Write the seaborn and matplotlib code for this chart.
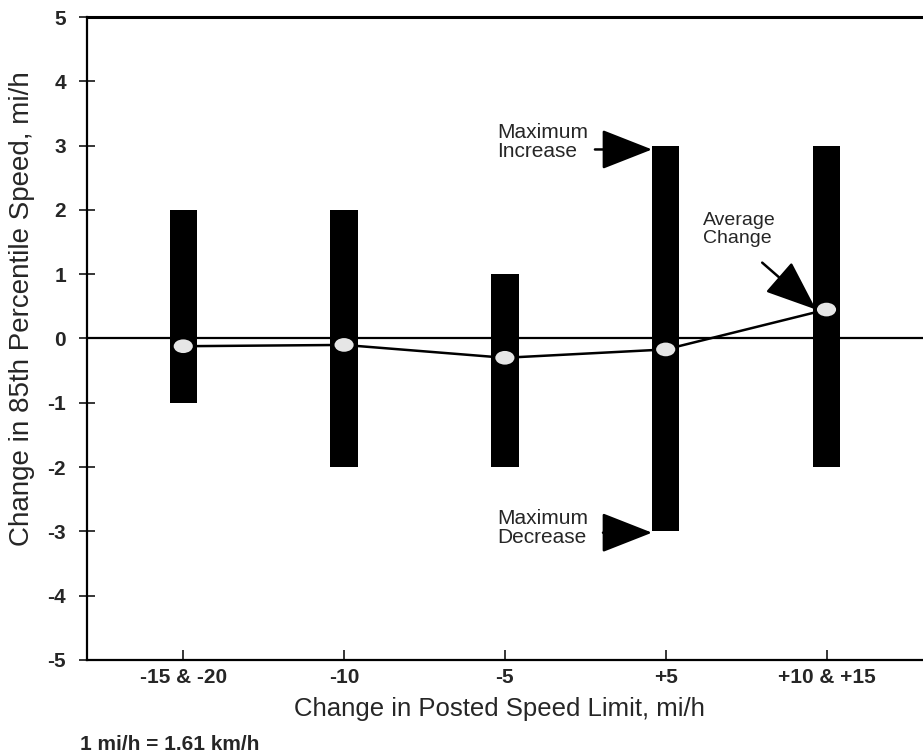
import numpy as np
import pandas as pd
import seaborn as sns
import matplotlib.pyplot as plt
from matplotlib.path import Path

# data
categories = ["-15 & -20", "-10", "-5", "+5", "+10 & +15"]
max_increase = [2, 2, 1, 3, 3]
max_decrease = [-1, -2, -2, -3, -2]
avg_change = [-0.12, -0.10, -0.30, -0.17, 0.45]
y_ticks = [-5, -4, -3, -2, -1, 0, 1, 2, 3, 4, 5]

df = pd.DataFrame({"cat": categories, "hi": max_increase, "lo": max_decrease,
                   "avg": avg_change, "pos": np.arange(len(categories))})

sns.set_style("white")
plt.rcParams["font.family"] = ["Liberation Sans", "DejaVu Sans"]

fig = plt.figure(figsize=(9.23, 7.56), dpi=100)
ax = fig.add_axes([0.094, 0.127, 0.906, 0.8505])

# range bars: upper part (0..max) and lower part (min..0)
sns.barplot(data=df, x="cat", y="hi", color="black", width=0.17, ax=ax,
            saturation=1, edgecolor="black", linewidth=0)
sns.barplot(data=df, x="cat", y="lo", color="black", width=0.17, ax=ax,
            saturation=1, edgecolor="black", linewidth=0)

ax.axhline(0, color="black", lw=1.6, zorder=1)

# average change line + elliptical white markers
sns.lineplot(data=df, x="pos", y="avg", color="black", lw=1.8, ax=ax, zorder=4)
circ = Path.unit_circle()
ell = Path(circ.vertices * np.array([1.4, 1.0]), circ.codes)
sns.scatterplot(data=df, x="pos", y="avg", marker=ell, s=190, color="#e6e6e6",
                edgecolor="none", ax=ax, zorder=5)

ax.set_xlim(-0.6, 4.6)
ax.set_ylim(-5, 5)
ax.set_yticks(y_ticks)
ax.set_yticklabels([str(v) for v in y_ticks])
ax.set_xticks(range(len(categories)))
ax.set_xticklabels(categories)

for lab in ax.get_xticklabels() + ax.get_yticklabels():
    lab.set_fontweight("bold")
    lab.set_fontsize(15)

ax.tick_params(axis="y", direction="inout", length=12, width=1.3, pad=9, left=True)
ax.tick_params(axis="x", direction="in", length=7, width=1.3, pad=6, bottom=True)

for s in ["left", "bottom", "top"]:
    ax.spines[s].set_visible(True)
    ax.spines[s].set_color("black")
    ax.spines[s].set_linewidth(1.6)
ax.spines["top"].set_linewidth(2.2)
ax.spines["right"].set_visible(False)

ax.set_xlabel("Change in Posted Speed Limit, mi/h", fontsize=18.5)
ax.xaxis.set_label_coords(0.494, -0.057)
ax.set_ylabel("Change in 85th Percentile Speed, mi/h", fontsize=20)
ax.yaxis.set_label_coords(-0.062, 0.547)

arrow = dict(arrowstyle="-|>,head_length=1.4,head_width=0.55", color="black",
             lw=1.8, mutation_scale=23, shrinkA=0, shrinkB=0)

ax.text(1.95, 3.06, "Maximum\nIncrease", fontsize=15, ha="left", va="center",
        linespacing=1.0)
ax.annotate("", xy=(3 - 0.085, 2.94), xytext=(2.56, 2.94), arrowprops=arrow)

ax.text(1.95, -2.95, "Maximum\nDecrease", fontsize=15, ha="left", va="center",
        linespacing=1.0)
ax.annotate("", xy=(3 - 0.085, -3.02), xytext=(2.61, -3.02), arrowprops=arrow)

ax.text(3.23, 1.70, "Average\nChange", fontsize=14, ha="left", va="center",
        linespacing=1.05)
ax.annotate("", xy=(3.935, 0.45), xytext=(3.60, 1.18), arrowprops=arrow)

fig.text(0.087, 0.008, "1 mi/h = 1.61 km/h", fontsize=15, fontweight="bold",
         ha="left", va="baseline")

fig.savefig("out.png", dpi=100)
